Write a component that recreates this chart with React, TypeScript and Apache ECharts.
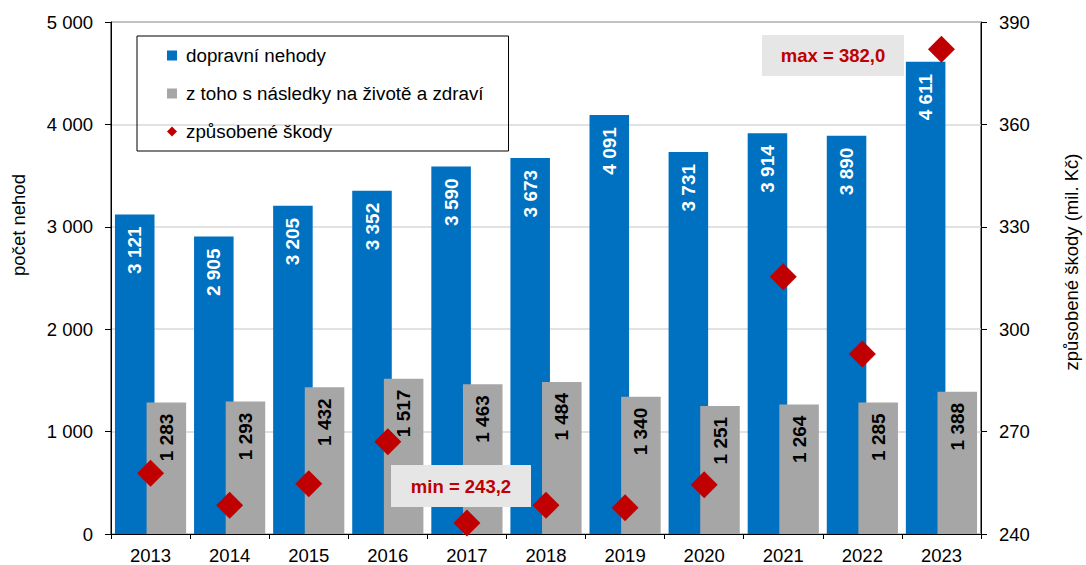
import React, { useEffect, useRef } from "react";
import * as echarts from "echarts";

const years = ["2013", "2014", "2015", "2016", "2017", "2018", "2019", "2020", "2021", "2022", "2023"];
const accidents = [3121, 2905, 3205, 3352, 3590, 3673, 4091, 3731, 3914, 3890, 4611];
const injuries = [1283, 1293, 1432, 1517, 1463, 1484, 1340, 1251, 1264, 1285, 1388];
const damages = [257.8, 248.4, 254.7, 267.0, 243.2, 248.4, 247.7, 254.4, 315.4, 292.7, 382.0];
const leftTicks = { min: 0, max: 5000, interval: 1000 };
const rightTicks = { min: 240, max: 390, interval: 30 };

const FONT = "'Liberation Sans', Arial, sans-serif";
const fmtThousands = (v: number) => String(Math.round(v)).replace(/\B(?=(\d{3})+(?!\d))/g, " ");
const fmtDec = (v: number) => v.toFixed(1).replace(".", ",");

export default function App() {
  const ref = useRef<HTMLDivElement>(null);
  useEffect(() => {
    if (!ref.current) return;
    const chart = echarts.init(ref.current, undefined, { renderer: "svg" });
    const maxV = Math.max(...damages);
    const minV = Math.min(...damages);
    const box = (cx: number, cy: number, w: number, h: number, text: string) => ({
      type: "group",
      z: 100,
      children: [
        { type: "rect", z: 100, shape: { x: cx - w / 2, y: cy - h / 2, width: w, height: h }, style: { fill: "#e6e6e6" } },
        {
          type: "text",
          z: 101,
          x: cx,
          y: cy,
          style: {
            text,
            fill: "#C00000",
            font: `bold 18.5px ${FONT}`,
            textAlign: "center",
            textVerticalAlign: "middle",
            align: "center",
            verticalAlign: "middle",
          },
        },
      ],
    });
    chart.setOption({
      animation: false,
      textStyle: { fontFamily: FONT },
      grid: { left: 111, right: 105, top: 22, bottom: 28, show: true, borderColor: "#000", borderWidth: 1, backgroundColor: "transparent" },
      legend: {
        orient: "vertical",
        left: 137,
        top: 36,
        padding: [10, 25, 10, 30],
        borderColor: "#000",
        borderWidth: 1,
        itemWidth: 10,
        itemHeight: 10,
        itemGap: 19,
        textStyle: { fontSize: 18.8, color: "#000", fontFamily: FONT, padding: [0, 0, 0, 4] },
        data: [
          { name: "dopravní nehody", icon: "rect" },
          { name: "z toho s následky na životě a zdraví", icon: "rect" },
          { name: "způsobené škody", icon: "diamond" },
        ],
      },
      xAxis: {
        type: "category",
        data: years,
        axisLine: { lineStyle: { color: "#000", width: 1 } },
        axisTick: { show: true, length: 5, lineStyle: { color: "#000" } },
        axisLabel: { color: "#000", fontSize: 18.5, margin: 12, fontFamily: FONT },
      },
      yAxis: [
        {
          type: "value",
          ...leftTicks,
          axisLine: { show: true, lineStyle: { color: "#000", width: 1 } },
          axisTick: { show: true, length: 6, lineStyle: { color: "#000" } },
          axisLabel: { color: "#000", fontSize: 18.5, margin: 18, formatter: (v: number) => fmtThousands(v), fontFamily: FONT },
          splitLine: { show: true, lineStyle: { color: "#d9d9d9", width: 1.5 } },
        },
        {
          type: "value",
          ...rightTicks,
          position: "right",
          axisLine: { show: true, lineStyle: { color: "#000", width: 1 } },
          axisTick: { show: true, length: 6, lineStyle: { color: "#000" } },
          axisLabel: { color: "#000", fontSize: 18.5, margin: 18, fontFamily: FONT },
          splitLine: { show: false },
        },
      ],
      series: [
        {
          name: "dopravní nehody",
          type: "bar",
          data: accidents,
          itemStyle: { color: "#0070C0" },
          barGap: "-20%",
          barCategoryGap: "10%",
          label: {
            show: true,
            position: "insideTop",
            rotate: 90,
            align: "right",
            verticalAlign: "middle",
            distance: 12,
            color: "#fff",
            fontWeight: "bold",
            fontSize: 19,
            fontFamily: FONT,
            formatter: (p: any) => fmtThousands(p.value),
          },
        },
        {
          name: "z toho s následky na životě a zdraví",
          type: "bar",
          data: injuries,
          itemStyle: { color: "#A6A6A6" },
          barGap: "-20%",
          barCategoryGap: "10%",
          label: {
            show: true,
            position: "insideTop",
            rotate: 90,
            align: "right",
            verticalAlign: "middle",
            distance: 11,
            color: "#000",
            fontWeight: "bold",
            fontSize: 19,
            fontFamily: FONT,
            formatter: (p: any) => fmtThousands(p.value),
          },
        },
        {
          name: "způsobené škody",
          type: "scatter",
          yAxisIndex: 1,
          data: damages,
          symbol: "diamond",
          symbolSize: 27,
          itemStyle: { color: "#C00000", opacity: 1 },
          z: 10,
        },
      ],
      graphic: [
        {
          type: "text",
          x: 18,
          y: 225,
          rotation: Math.PI / 2,
          style: {
            text: "počet nehod",
            fill: "#000",
            font: `18.5px ${FONT}`,
            textAlign: "center",
            textVerticalAlign: "middle",
            align: "center",
            verticalAlign: "middle",
          },
        },
        {
          type: "text",
          x: 1071,
          y: 262,
          rotation: Math.PI / 2,
          style: {
            text: "způsobené škody (mil. Kč)",
            fill: "#000",
            font: `18.5px ${FONT}`,
            textAlign: "center",
            textVerticalAlign: "middle",
            align: "center",
            verticalAlign: "middle",
          },
        },
        box(833, 55.5, 142, 41, `max = ${fmtDec(maxV)}`),
        box(461, 486, 140, 42, `min = ${fmtDec(minV)}`),
      ],
    });
    return () => chart.dispose();
  }, []);
  return <div ref={ref} style={{ position: "absolute", left: 0, top: 0, width: 1086, height: 565 }} />;
}
